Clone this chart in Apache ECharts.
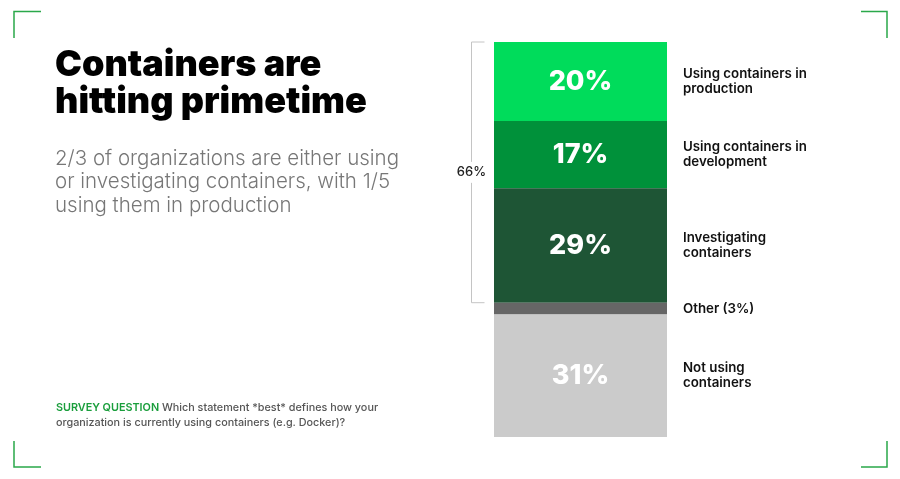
<!DOCTYPE html>
<html>
<head>
<meta charset="utf-8">
<script src="https://cdn.jsdelivr.net/npm/echarts@6/dist/echarts.min.js"></script>
<style>
html,body{margin:0;padding:0;background:#fff;}
#chart{width:900px;height:479px;}
</style>
</head>
<body>
<div id="chart"></div>
<script>
// ---- data ----
const categories = ['Using containers in\nproduction', 'Using containers in\ndevelopment', 'Investigating\ncontainers', 'Other (3%)', 'Not using\ncontainers'];
const values = [20, 17, 29, 3, 31];
const showPct = [true, true, true, false, true];
const bracketStart = 0;
const bracketEnd = 66;
const bracketLabel = '66%';

// ---- styles ----
const colors = ['#00dc5b', '#00913a', '#1e5535', '#666666', '#cbcbcb'];
const FONT = 'Inter, "Noto Sans", sans-serif';

const chart = echarts.init(document.getElementById('chart'), null, {renderer: 'canvas'});

const series = [];
values.forEach((v, i) => {
  series.push({
    type: 'bar', stack: 'a', name: categories[i], data: [v], barWidth: '100%',
    xAxisIndex: 0, silent: true,
    itemStyle: {color: colors[i]},
    label: {
      show: showPct[i], position: 'inside', formatter: '{c}%',
      color: '#ffffff', fontSize: 27, fontWeight: 800, fontFamily: FONT
    }
  });
});
values.forEach((v, i) => {
  series.push({
    type: 'bar', stack: 'b', name: categories[i] + ' label', data: [v], barWidth: '100%',
    xAxisIndex: 1, silent: true,
    itemStyle: {color: 'rgba(0,0,0,0)'},
    label: {
      show: true, position: 'right', distance: 16, formatter: categories[i],
      color: '#111111', fontSize: 13.3, fontWeight: 600, fontFamily: FONT, lineHeight: 15
    }
  });
});
series.push({
  type: 'custom', xAxisIndex: 0, silent: true, z: 10,
  data: [[0, bracketStart, bracketEnd]],
  renderItem: function (params, api) {
    const p0 = api.coord([api.value(0), api.value(1)]);
    const p1 = api.coord([api.value(0), api.value(2)]);
    const w = api.size([1, 0])[0];
    const x = p0[0] - w / 2 - 22.5;
    const y0 = p0[1], y1 = p1[1];
    return {
      type: 'group',
      children: [
        {type: 'polyline', shape: {points: [[x + 13, y0], [x, y0], [x, y1], [x + 13, y1]]},
         style: {stroke: '#c4c4c4', lineWidth: 1, fill: null}},
        {type: 'text', x: x, y: (y0 + y1) / 2,
         style: {text: bracketLabel, align: 'center', verticalAlign: 'middle',
                 fill: '#222', font: '500 13px ' + FONT, backgroundColor: '#fff', padding: [4, 0]}}
      ]
    };
  }
});

const green = '#2aa84a';
const option = {
  backgroundColor: '#fff',
  animation: false,
  grid: {left: 494, top: 42, width: 173, height: 395},
  xAxis: [
    {type: 'category', data: [''], show: false},
    {type: 'category', data: [''], show: false}
  ],
  yAxis: {type: 'value', min: 0, max: 100, inverse: true, show: false},
  title: [
    {text: 'Containers are\nhitting primetime', left: 55, top: 47, padding: 0,
     textStyle: {fontFamily: FONT, fontSize: 36, fontWeight: 900, color: '#000', lineHeight: 37}},
    {text: '2/3 of organizations are either using\nor investigating containers, with 1/5\nusing them in production', left: 55, top: 147, padding: 0,
     textStyle: {fontFamily: FONT, fontSize: 20.5, fontWeight: 300, color: '#777', lineHeight: 23.5}},
    {text: '{g|SURVEY QUESTION} Which statement *best* defines how your\norganization is currently using containers (e.g. Docker)?', left: 56, top: 400, padding: 0,
     textStyle: {fontFamily: FONT, fontSize: 10.8, fontWeight: 500, color: '#555', lineHeight: 15,
       rich: {g: {fontFamily: FONT, fontSize: 10.8, fontWeight: 600, color: '#1a9e3c', lineHeight: 15}}}}
  ],
  graphic: [
    {type: 'polyline', shape: {points: [[14, 38], [14, 11.5], [41, 11.5]]}, style: {stroke: green, lineWidth: 1.5, fill: null}},
    {type: 'polyline', shape: {points: [[861, 11.5], [887, 11.5], [887, 38]]}, style: {stroke: green, lineWidth: 1.5, fill: null}},
    {type: 'polyline', shape: {points: [[14, 441], [14, 467], [41, 467]]}, style: {stroke: green, lineWidth: 1.5, fill: null}},
    {type: 'polyline', shape: {points: [[887, 441], [887, 467], [861, 467]]}, style: {stroke: green, lineWidth: 1.5, fill: null}}
  ],
  series: series
};
chart.setOption(option);
</script>
</body>
</html>
